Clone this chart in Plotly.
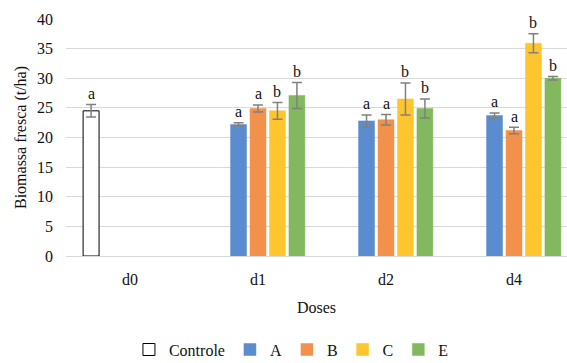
import plotly.graph_objects as go

# Dose levels on the x axis
doses = ["d0", "d1", "d2", "d4"]

# Fresh biomass (t/ha) per treatment; None where a treatment was not applied
controle = [24.5, None, None, None]
serie_a = [None, 22.2, 22.8, 23.7]
serie_b = [None, 24.9, 23.0, 21.2]
serie_c = [None, 24.5, 26.5, 35.9]
serie_e = [None, 27.1, 24.9, 30.0]

# Error bar half-widths
err_controle = [1.05, 0, 0, 0]
err_a = [0, 0.3, 1.0, 0.45]
err_b = [0, 0.6, 0.9, 0.55]
err_c = [0, 1.4, 2.7, 1.6]
err_e = [0, 2.2, 1.6, 0.3]

# Significance letters
let_controle = ["a", "", "", ""]
let_a = ["", "a", "a", "a"]
let_b = ["", "a", "a", "a"]
let_c = ["", "b", "b", "b"]
let_e = ["", "b", "b", "b"]

names = ["Controle", "A", "B", "C", "E"]
values = [controle, serie_a, serie_b, serie_c, serie_e]
errors = [err_controle, err_a, err_b, err_c, err_e]
letters = [let_controle, let_a, let_b, let_c, let_e]
fills = ["#FFFFFF", "#5B8CD0", "#F1914B", "#FEC52E", "#82B85E"]
edges = ["#000000", "#5B8CD0", "#F1914B", "#FEC52E", "#82B85E"]

FONT = "Liberation Serif"
FS = 16
W, H = 567, 363
M_L, M_R, M_T, M_B = 66, 0, 19, 107
X_RANGE = [-0.5, 3.414]
BARGAP = 0.24

fig = go.Figure()
for name, vals, errs, fc, ec in zip(names, values, errors, fills, edges):
    fig.add_trace(go.Bar(
        name=name, x=doses, y=vals,
        marker=dict(color=fc, line=dict(color=ec, width=1 if name == "Controle" else 0.5)),
        error_y=dict(type="data", array=errs, visible=True, color="#808080",
                     thickness=1.5, width=5),
    ))

# Letters above each error bar, shifted to the slot of their bar in the group
plot_w = W - M_L - M_R
cat_px = plot_w / (X_RANGE[1] - X_RANGE[0])
slot_px = cat_px * (1 - BARGAP) / len(names)
for i, (vals, errs, lets) in enumerate(zip(values, errors, letters)):
    off = (i - (len(names) - 1) / 2) * slot_px
    for d, v, e, t in zip(doses, vals, errs, lets):
        if v is None or not t:
            continue
        fig.add_annotation(x=d, y=v + e, text=t, showarrow=False,
                           xshift=off, yshift=11, yanchor="middle",
                           font=dict(family=FONT, size=FS, color="#111111"))

fig.update_layout(
    width=W, height=H,
    margin=dict(l=M_L, r=M_R, t=M_T, b=M_B, autoexpand=False),
    paper_bgcolor="white", plot_bgcolor="white",
    barmode="group", bargap=BARGAP, bargroupgap=0.18,
    font=dict(family=FONT, size=FS, color="#111111"),
    showlegend=True,
    legend=dict(orientation="h", x=0.45, xanchor="center", y=-0.395, yanchor="middle",
                font=dict(family=FONT, size=FS, color="#111111"),
                traceorder="normal"),
    xaxis=dict(range=X_RANGE, showgrid=False, showline=False, ticks="",
               ticklabelstandoff=12, tickfont=dict(family=FONT, size=FS),
               title=dict(text="Doses", font=dict(family=FONT, size=FS), standoff=14)),
    yaxis=dict(range=[0, 40], dtick=5, showgrid=True, gridcolor="#D9D9D9", gridwidth=1,
               zeroline=True, zerolinecolor="#D9D9D9", zerolinewidth=1,
               showline=False, ticks="", ticklabelstandoff=12,
               tickfont=dict(family=FONT, size=FS),
               title=dict(text="Biomassa fresca (t/ha)", font=dict(family=FONT, size=FS),
                          standoff=6)),
)

fig.write_html("out.html")
